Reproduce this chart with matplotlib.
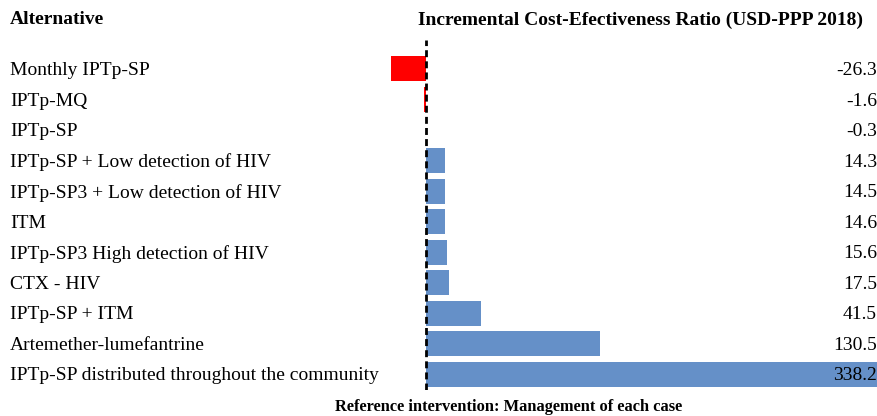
import matplotlib
matplotlib.use('Agg')
import matplotlib.pyplot as plt
import matplotlib.transforms as mtransforms

alternatives = ['Monthly IPTp-SP', 'IPTp-MQ', 'IPTp-SP', 'IPTp-SP + Low detection of HIV',
                'IPTp-SP3 + Low detection of HIV', 'ITM', 'IPTp-SP3 High detection of HIV',
                'CTX - HIV', 'IPTp-SP + ITM', 'Artemether-lumefantrine',
                'IPTp-SP distributed throughout the community']
icer = [-26.3, -1.6, -0.3, 14.3, 14.5, 14.6, 15.6, 17.5, 41.5, 130.5, 338.2]

plt.rcParams['font.family'] = ['Liberation Serif', 'DejaVu Serif']

W, H = 878, 416
fig = plt.figure(figsize=(W / 100, H / 100), dpi=100)
ax = fig.add_axes([380 / W, (H - 390) / H, 498 / W, 350 / H])

colors = ['#FF0000' if v < 0 else '#6590C8' for v in icer]
ax.barh(range(len(icer)), icer, height=0.82, color=colors)
ax.axvline(0, color='black', lw=2, ls=(0, (2.5, 1.5)))
ax.set_xlim(-34.4, 338.2)
ax.set_ylim(10.52, -0.95)
ax.axis('off')

trans = mtransforms.blended_transform_factory(fig.transFigure, ax.transData)
for i, (name, v) in enumerate(zip(alternatives, icer)):
    ax.text(10 / W, i + 0.05, name, transform=trans, ha='left', va='center', fontsize=14)
    ax.text(877 / W, i + 0.05, f'{v:.1f}', transform=trans, ha='right', va='center', fontsize=14)

fig.text(10 / W, 1 - 20 / H, 'Alternative', ha='left', va='center', fontsize=14, weight='bold')
fig.text(640 / W, 1 - 20 / H, 'Incremental Cost-Efectiveness Ratio (USD-PPP 2018)',
         ha='center', va='center', fontsize=14, weight='bold')
fig.text(509 / W, 1 - 407 / H, 'Reference intervention: Management of each case',
         ha='center', va='center', fontsize=11.75, weight='bold')

fig.savefig('out.png', dpi=100)
